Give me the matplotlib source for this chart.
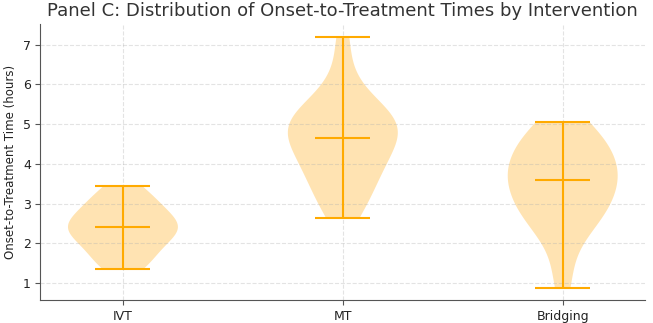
import matplotlib
matplotlib.use("Agg")
import matplotlib.pyplot as plt

categories = ["IVT", "MT", "Bridging"]
ivt = [1.35, 1.45, 1.6, 1.75, 1.9, 2.0, 2.1, 2.2, 2.3, 2.35, 2.4, 2.45, 2.5,
       2.6, 2.7, 2.8, 2.9, 3.0, 3.15, 3.3, 3.45]
mt = [2.65, 2.9, 3.15, 3.4, 3.6, 3.8, 3.95, 4.1, 4.25, 4.4, 4.55, 4.65,
      4.8, 4.9, 4.97, 5.05, 5.12, 5.2, 5.3, 5.45, 5.7, 6.3, 7.2]
bridging = [0.88, 1.6, 2.25, 2.45, 2.6, 2.75, 2.9, 3.05, 3.2, 3.3, 3.45, 3.6,
            3.7, 3.8, 3.9, 4.0, 4.15, 4.3, 4.45, 4.6, 4.75, 4.9, 5.05]
yticks = [1, 2, 3, 4, 5, 6, 7]

fig, ax = plt.subplots(figsize=(6.53, 3.23), dpi=100)
parts = ax.violinplot([ivt, mt, bridging], showmedians=True)
for b in parts["bodies"]:
    b.set_facecolor("orange")
    b.set_edgecolor("none")
    b.set_alpha(0.3)
for key in ("cmins", "cmaxes", "cbars", "cmedians"):
    parts[key].set_color("#FFAA00")
    parts[key].set_linewidth(1.5)

ax.set_xticks([1, 2, 3])
ax.set_xticklabels(categories)
ax.set_yticks(yticks)
ax.tick_params(colors="#555555", labelsize=9, labelcolor="#222222")
ax.set_ylabel("Onset-to-Treatment Time (hours)", fontsize=8.5, color="#222222")
ax.set_title("Panel C: Distribution of Onset-to-Treatment Times by Intervention",
             fontsize=13, color="#333333")
ax.grid(True, linestyle="--", alpha=0.35)
ax.spines["top"].set_visible(False)
ax.spines["right"].set_visible(False)
ax.spines["left"].set_color("#555555")
ax.spines["bottom"].set_color("#555555")
fig.subplots_adjust(left=0.062, right=0.988, top=0.925, bottom=0.07)
fig.savefig("out.png", dpi=100)
